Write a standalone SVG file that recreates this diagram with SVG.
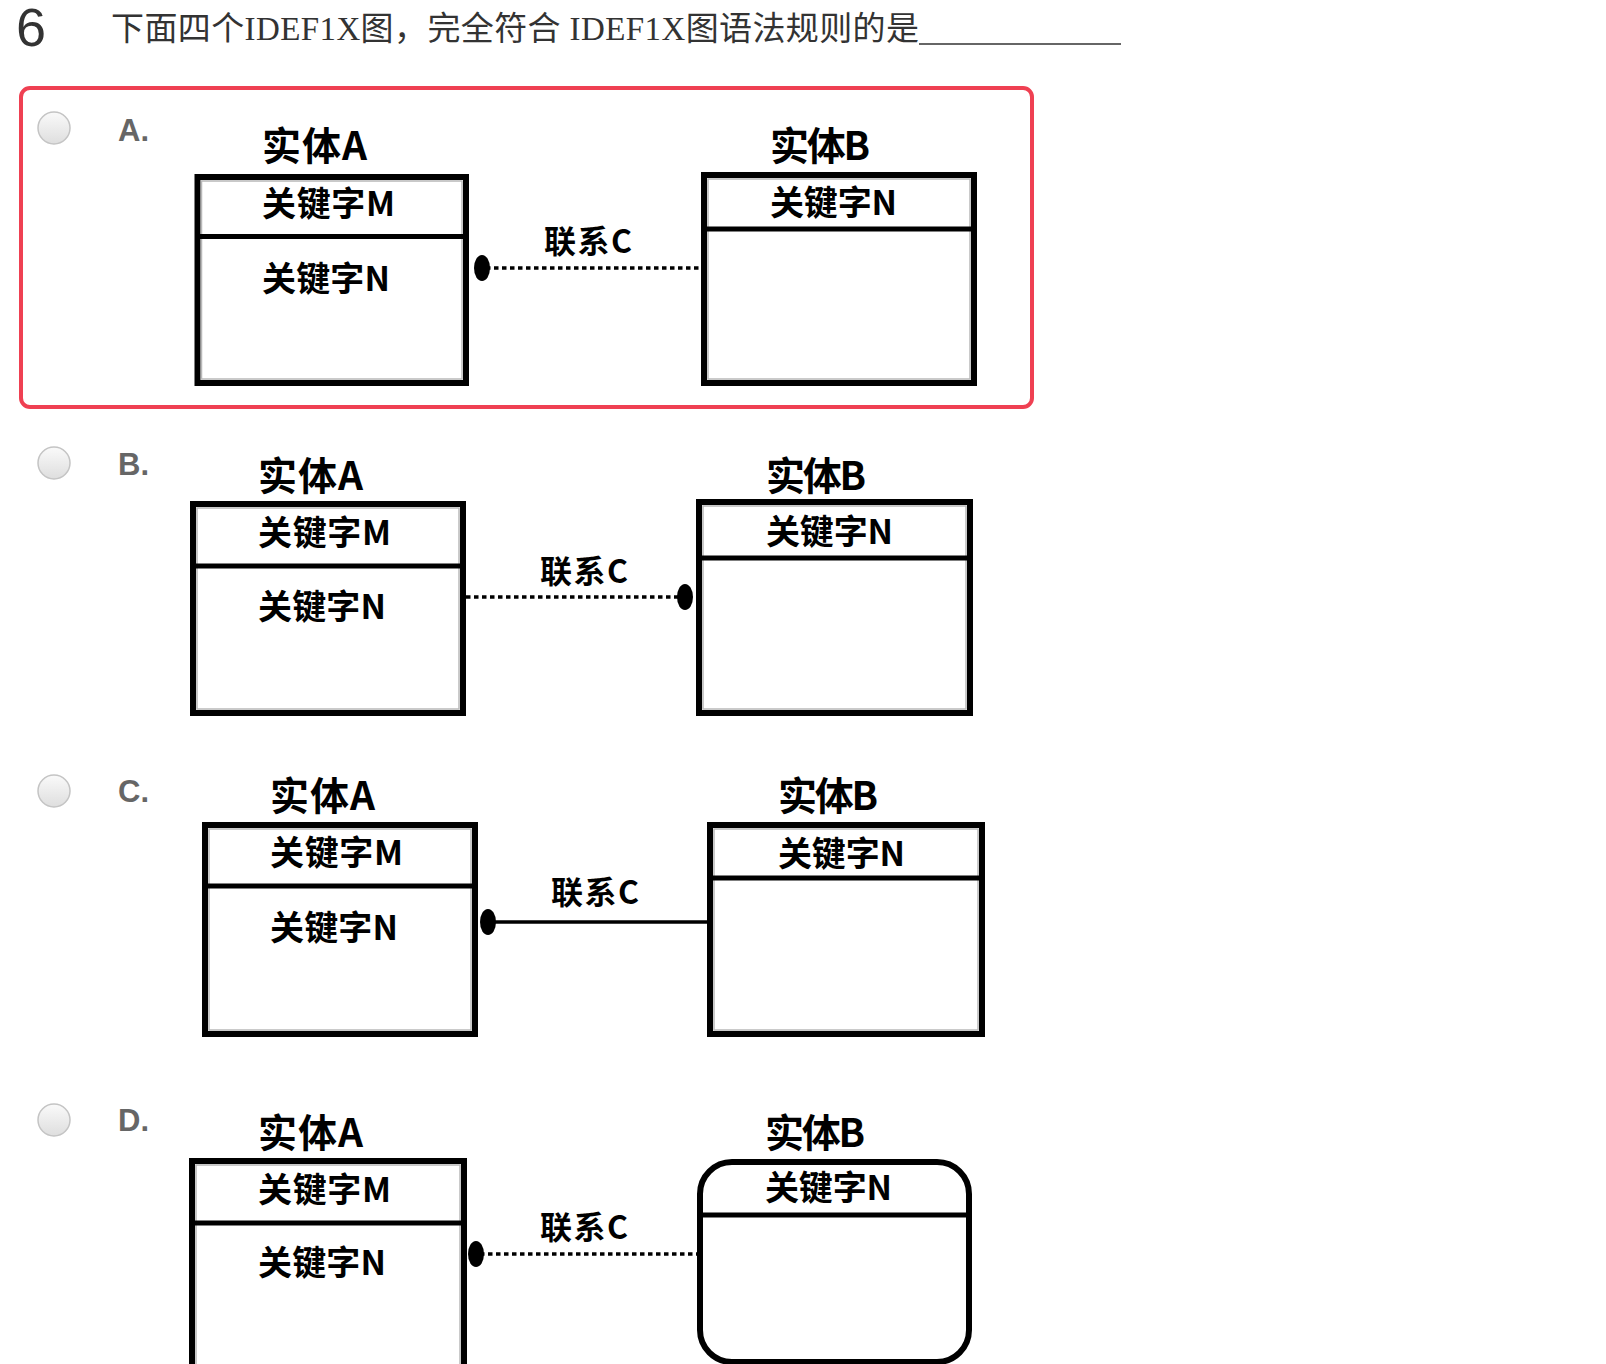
<svg xmlns="http://www.w3.org/2000/svg" width="1606" height="1364" viewBox="0 0 1606 1364">
<defs>
<linearGradient id="radioGrad" x1="0" y1="0" x2="0" y2="1">
<stop offset="0" stop-color="#fafafa"/>
<stop offset="1" stop-color="#dedede"/>
</linearGradient>
</defs>
<style>
.q{font-family:"Liberation Serif","Noto Sans CJK SC",serif;font-size:33px;fill:#333}
.num{font-family:"Liberation Sans","Noto Sans",sans-serif;font-size:54px;fill:#333}
.opt{font-family:"Liberation Sans",Arial,sans-serif;font-size:31px;font-weight:bold;fill:#666}
.radio{fill:url(#radioGrad);stroke:#c4c4c4;stroke-width:1.5}
.ent{fill:#fff;stroke:#000;stroke-width:6}
.inner{fill:none;stroke:#b8b8b8;stroke-width:1.5}
.div{stroke:#000;stroke-width:5}
.title{font-family:"Noto Sans CJK SC","Noto Sans",sans-serif;font-size:39px;font-weight:bold;fill:#000}
.key{font-family:"Noto Sans CJK SC","Noto Sans",sans-serif;font-size:34px;font-weight:bold;fill:#000}
.rel{font-family:"Noto Sans CJK SC","Noto Sans",sans-serif;font-size:32px;font-weight:bold;fill:#000}
.dotted{stroke:#000;stroke-width:3.5;stroke-dasharray:4.5 3.5;fill:none}
.solid{stroke:#000;stroke-width:3.5;fill:none}
.dot{fill:#000}
</style>
<rect width="1606" height="1364" fill="#fff"/>

<g id="question">
<text class="num" x="16" y="46">6</text>
<text class="q" x="111" y="40" textLength="808" lengthAdjust="spacing">下面四个IDEF1X图，完全符合 IDEF1X图语法规则的是</text>
<line x1="919" y1="44" x2="1121" y2="44" stroke="#333" stroke-width="1.5"/>
</g>

<g id="selection">
<rect x="21" y="88" width="1011" height="319" rx="9" fill="none" stroke="#ef4052" stroke-width="4"/>
</g>

<g id="options">
<circle class="radio" cx="54" cy="128" r="16"/>
<text class="opt" x="118" y="141">A.</text>
<circle class="radio" cx="54" cy="463" r="16"/>
<text class="opt" x="118" y="475">B.</text>
<circle class="radio" cx="54" cy="791" r="16"/>
<text class="opt" x="118" y="802">C.</text>
<circle class="radio" cx="54" cy="1120" r="16"/>
<text class="opt" x="118" y="1131">D.</text>
</g>

<!-- Option A -->
<g id="A-entityA">
<text class="title" x="262" y="160" textLength="105">实体A</text>
<rect class="ent" x="197.5" y="177" width="268.5" height="206"/>
<rect class="inner" x="201.5" y="181" width="260.5" height="198"/>
<line class="div" x1="197.5" y1="236.5" x2="466" y2="236.5"/>
<text class="key" x="262" y="216" textLength="133">关键字M</text>
<text class="key" x="262" y="291" textLength="128">关键字N</text>
</g>
<g id="A-entityB">
<text class="title" x="770" y="160" textLength="100">实体B</text>
<rect class="ent" x="704" y="175" width="270" height="208"/>
<rect class="inner" x="708" y="179" width="262" height="200"/>
<line class="div" x1="704" y1="229" x2="974" y2="229"/>
<text class="key" x="770" y="215" textLength="127">关键字N</text>
</g>

<!-- Option B -->
<g id="B-entityA">
<text class="title" x="258" y="490" textLength="105">实体A</text>
<rect class="ent" x="193" y="504" width="270" height="209"/>
<rect class="inner" x="197" y="508" width="262" height="201"/>
<line class="div" x1="193" y1="566" x2="463" y2="566"/>
<text class="key" x="258" y="545" textLength="133">关键字M</text>
<text class="key" x="258" y="619" textLength="128">关键字N</text>
</g>
<g id="B-entityB">
<text class="title" x="766" y="490" textLength="100">实体B</text>
<rect class="ent" x="699" y="502" width="271" height="211"/>
<rect class="inner" x="703" y="506" width="263" height="203"/>
<line class="div" x1="699" y1="558" x2="970" y2="558"/>
<text class="key" x="766" y="544" textLength="127">关键字N</text>
</g>

<!-- Option C -->
<g id="C-entityA">
<text class="title" x="270" y="810" textLength="105">实体A</text>
<rect class="ent" x="205" y="825" width="270" height="209"/>
<rect class="inner" x="209" y="829" width="262" height="201"/>
<line class="div" x1="205" y1="886" x2="475" y2="886"/>
<text class="key" x="270" y="865" textLength="133">关键字M</text>
<text class="key" x="270" y="940" textLength="128">关键字N</text>
</g>
<g id="C-entityB">
<text class="title" x="778" y="810" textLength="100">实体B</text>
<rect class="ent" x="710" y="825" width="272" height="209"/>
<rect class="inner" x="714" y="829" width="264" height="201"/>
<line class="div" x1="710" y1="878" x2="982" y2="878"/>
<text class="key" x="778" y="866" textLength="127">关键字N</text>
</g>

<!-- Option D -->
<g id="D-entityA">
<text class="title" x="258" y="1147" textLength="105">实体A</text>
<rect class="ent" x="192" y="1161" width="272" height="300"/>
<rect class="inner" x="196" y="1165" width="264" height="292"/>
<line class="div" x1="192" y1="1223" x2="464" y2="1223"/>
<text class="key" x="258" y="1202" textLength="133">关键字M</text>
<text class="key" x="258" y="1275" textLength="128">关键字N</text>
</g>
<g id="D-entityB">
<text class="title" x="765" y="1147" textLength="100">实体B</text>
<rect class="ent" x="700" y="1162" width="269" height="200" rx="32"/>
<line class="div" x1="700" y1="1215" x2="969" y2="1215"/>
<text class="key" x="765" y="1200" textLength="127">关键字N</text>
</g>

<g id="connectors">
<line class="dotted" x1="486" y1="268" x2="701" y2="268"/>
<ellipse class="dot" cx="482" cy="268" rx="8" ry="13"/>
<text class="rel" x="544" y="253" textLength="88">联系C</text>

<line class="dotted" x1="466" y1="597" x2="680" y2="597"/>
<ellipse class="dot" cx="685" cy="597" rx="8" ry="13"/>
<text class="rel" x="540" y="583" textLength="88">联系C</text>

<line class="solid" x1="490" y1="922" x2="708" y2="922"/>
<ellipse class="dot" cx="488" cy="922" rx="8" ry="13"/>
<text class="rel" x="551" y="904" textLength="88">联系C</text>

<line class="dotted" x1="480" y1="1254" x2="697" y2="1254"/>
<ellipse class="dot" cx="476" cy="1254" rx="8" ry="13"/>
<text class="rel" x="540" y="1239" textLength="88">联系C</text>
</g>
</svg>
